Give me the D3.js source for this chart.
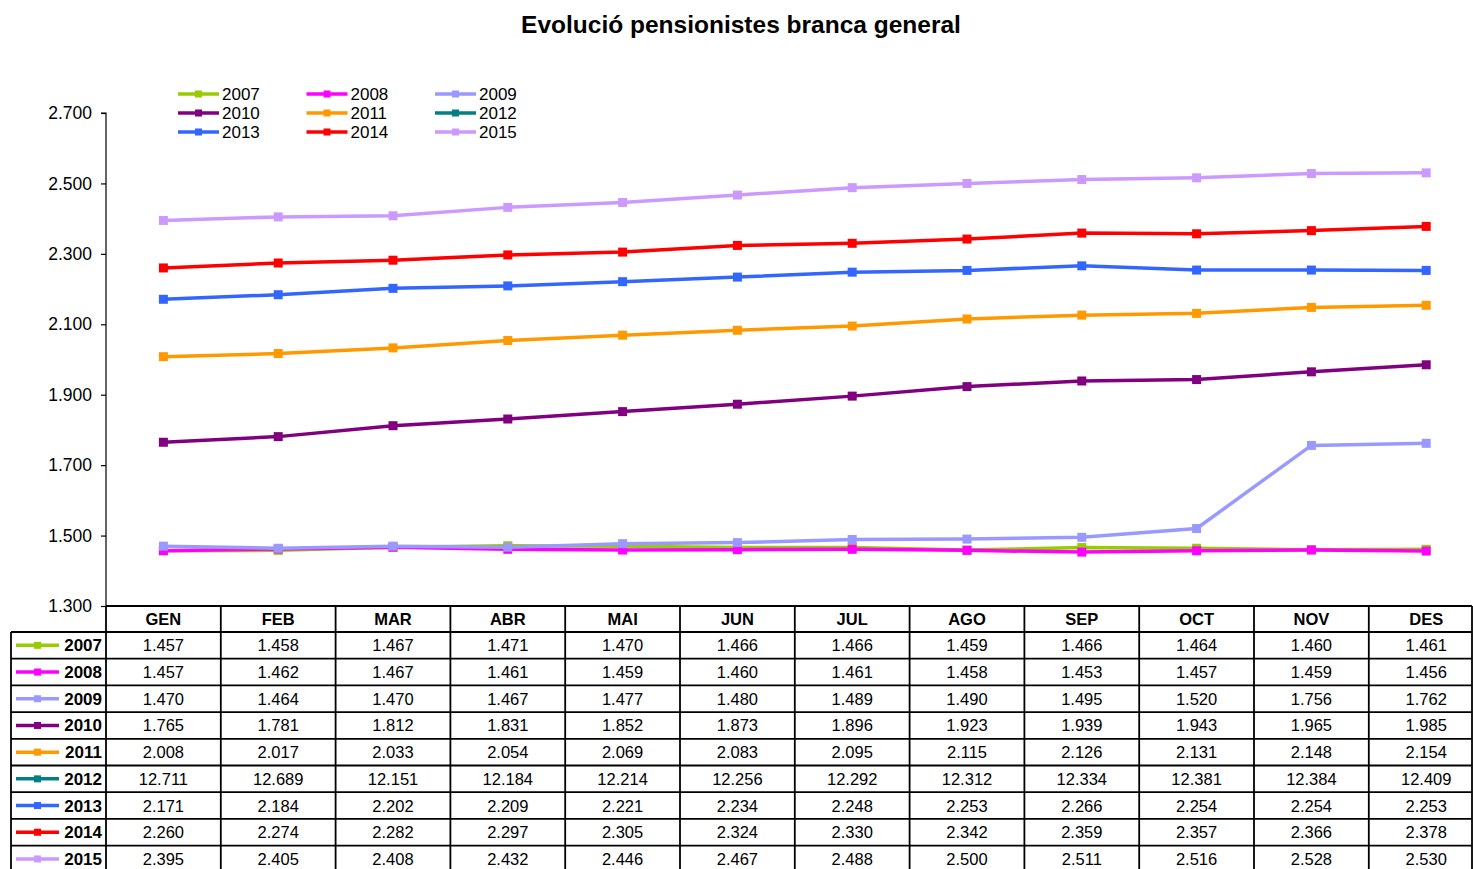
<!DOCTYPE html>
<html><head><meta charset="utf-8">
<script src="https://cdn.jsdelivr.net/npm/d3@7/dist/d3.min.js"></script>
<style>body{margin:0;background:#fff}svg{display:block}text{font-family:"Liberation Sans",Arial,sans-serif}</style>
</head><body><svg id="c" width="1473" height="869"></svg>
<script>
const months = ["GEN","FEB","MAR","ABR","MAI","JUN","JUL","AGO","SEP","OCT","NOV","DES"];
const years = ["2007","2008","2009","2010","2011","2012","2013","2014","2015"];
const colors = ["#99cc00","#ff00ff","#9999ff","#800080","#ff9900","#008080","#3366ff","#ff0000","#cc99ff"];
const v2007 = [1457,1458,1467,1471,1470,1466,1466,1459,1466,1464,1460,1461];
const v2008 = [1457,1462,1467,1461,1459,1460,1461,1458,1453,1457,1459,1456];
const v2009 = [1470,1464,1470,1467,1477,1480,1489,1490,1495,1520,1756,1762];
const v2010 = [1765,1781,1812,1831,1852,1873,1896,1923,1939,1943,1965,1985];
const v2011 = [2008,2017,2033,2054,2069,2083,2095,2115,2126,2131,2148,2154];
const v2012 = [12711,12689,12151,12184,12214,12256,12292,12312,12334,12381,12384,12409];
const v2013 = [2171,2184,2202,2209,2221,2234,2248,2253,2266,2254,2254,2253];
const v2014 = [2260,2274,2282,2297,2305,2324,2330,2342,2359,2357,2366,2378];
const v2015 = [2395,2405,2408,2432,2446,2467,2488,2500,2511,2516,2528,2530];
const yTicks = [1300,1500,1700,1900,2100,2300,2500,2700];
const title = "Evolució pensionistes branca general";

const series = [v2007,v2008,v2009,v2010,v2011,v2012,v2013,v2014,v2015].map((v,i)=>({year:years[i],color:colors[i],values:v}));
const loc = d3.formatLocale({decimal:",",thousands:".",grouping:[3],currency:["",""]});
const fmt = loc.format(",");

const svg = d3.select("#c");
const pLeft = 106, colW = 114.8, pTop = 113, pBottom = 606;
const x = d3.scaleBand().domain(months).range([pLeft, pLeft + colW*12]).paddingInner(0).paddingOuter(0);
const cx = m => x(m) + x.bandwidth()/2;
const y = d3.scaleLinear().domain([1300,2700]).range([pBottom, pTop]);

svg.append("text").attr("x",741).attr("y",33).attr("text-anchor","middle")
  .attr("font-size",24.5).attr("font-weight","bold").text(title);

svg.append("defs").append("clipPath").attr("id","plot")
  .append("rect").attr("x",pLeft).attr("y",pTop-8).attr("width",1473-pLeft).attr("height",pBottom-pTop+8);

// y axis
const yAxis = d3.axisLeft(y).tickValues(yTicks).tickFormat(fmt).tickSize(5).tickPadding(9);
const ga = svg.append("g").attr("transform",`translate(${pLeft},0)`).call(yAxis);
ga.select(".domain").attr("stroke","#000").attr("stroke-width",1.2).attr("d",`M-5,${pTop}H0V${pBottom}`);
ga.selectAll(".tick line").attr("stroke","#000").attr("stroke-width",1.2);
ga.selectAll(".tick text").attr("font-size",17.5).attr("fill","#000").attr("font-family","Liberation Sans, Arial, sans-serif");

// lines
const line = d3.line().x((d,i)=>cx(months[i])).y(d=>y(d));
const gl = svg.append("g").attr("clip-path","url(#plot)");
series.forEach(s=>{
  gl.append("path").attr("d",line(s.values)).attr("fill","none").attr("stroke",s.color).attr("stroke-width",3.5);
  gl.selectAll(null).data(s.values).join("rect")
    .attr("x",(d,i)=>cx(months[i])-4.5).attr("y",d=>y(d)-4.5).attr("width",9).attr("height",9).attr("fill",s.color);
});

// top legend
const lg = svg.append("g");
series.forEach((s,i)=>{
  const col = i%3, row = Math.floor(i/3);
  const lx = 178 + col*128.5, ly = 94 + row*19;
  lg.append("line").attr("x1",lx).attr("x2",lx+41).attr("y1",ly).attr("y2",ly).attr("stroke",s.color).attr("stroke-width",3.5);
  lg.append("rect").attr("x",lx+17).attr("y",ly-3.5).attr("width",7).attr("height",7).attr("fill",s.color);
  lg.append("text").attr("x",lx+44).attr("y",ly+6).attr("font-size",17).text(s.year);
});

// data table
const tg = svg.append("g");
const hdrTop = pBottom, hdrBot = 632, rowH = 26.7;
const tableRight = 1472;
const sw = 1.8;
tg.append("line").attr("x1",pLeft).attr("x2",tableRight).attr("y1",hdrTop).attr("y2",hdrTop).attr("stroke","#000").attr("stroke-width",sw);
for(let r=0;r<=series.length;r++){
  const yy = hdrBot + r*rowH;
  tg.append("line").attr("x1",11).attr("x2",tableRight).attr("y1",yy).attr("y2",yy).attr("stroke","#000").attr("stroke-width",sw);
}
months.forEach(m=>{
  tg.append("line").attr("x1",x(m)).attr("x2",x(m)).attr("y1",hdrTop).attr("y2",869).attr("stroke","#000").attr("stroke-width",sw);
});
tg.append("line").attr("x1",tableRight).attr("x2",tableRight).attr("y1",hdrTop).attr("y2",869).attr("stroke","#000").attr("stroke-width",sw);
tg.append("line").attr("x1",11).attr("x2",11).attr("y1",hdrBot).attr("y2",869).attr("stroke","#000").attr("stroke-width",sw);
months.forEach(m=>{
  tg.append("text").attr("x",cx(m)).attr("y",hdrTop+19).attr("text-anchor","middle")
    .attr("font-size",16.5).attr("font-weight","bold").text(m);
});
series.forEach((s,r)=>{
  const yc = hdrBot + r*rowH + rowH/2;
  tg.append("line").attr("x1",16).attr("x2",59).attr("y1",yc).attr("y2",yc).attr("stroke",s.color).attr("stroke-width",3.5);
  tg.append("rect").attr("x",34).attr("y",yc-3.5).attr("width",7).attr("height",7).attr("fill",s.color);
  tg.append("text").attr("x",102).attr("y",yc+6).attr("text-anchor","end").attr("font-size",17).attr("font-weight","bold").text(s.year);
  s.values.forEach((v,i)=>{
    tg.append("text").attr("x",cx(months[i])).attr("y",yc+6).attr("text-anchor","middle")
      .attr("font-size",16.5).text(fmt(v));
  });
});
</script></body></html>
